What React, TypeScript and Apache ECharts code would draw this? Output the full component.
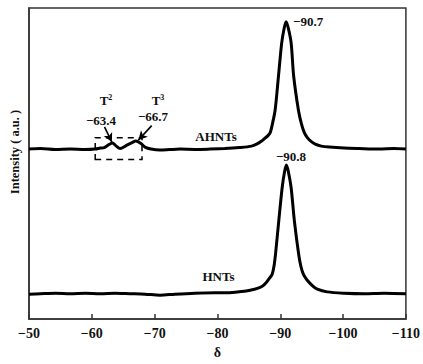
import React, { useEffect, useRef } from "react";
import * as echarts from "echarts";

// chemical shift (δ, ppm) and intensity (a.u.)
const ahntsShift = [
  -50.0, -51.82, -54.2, -56.58, -58.96, -60.54, -61.33, -61.97, -62.6, -63.3, -63.8, -64.51,
  -65.46, -66.41, -67.0, -67.83, -68.47, -69.42, -70.85, -72.43, -74.02, -76.4, -78.77,
  -81.15, -83.53, -85.43, -86.38, -86.97, -87.49, -88.05, -88.4, -88.76, -89.19, -89.71,
  -90.23, -90.63, -90.93, -91.27, -91.73, -92.14, -92.88, -93.36, -93.83, -94.31, -94.9,
  -95.58, -96.53, -97.8, -100.17, -102.55, -105.72, -108.1, -110.0,
];
const ahntsIntensity = [
  170.5, 171, 170, 170.5, 170, 170.5, 171.5, 172, 174.5, 176.5, 174, 171,
  174, 177, 178.5, 176, 172.5, 170.5, 169.5, 170, 170.5, 170.2, 170.5,
  171, 172, 173.5, 176, 178.3, 181, 184, 187, 196, 210, 243.3,
  277, 292, 298.3, 292, 277, 243.3, 210, 196, 187, 182, 178.3,
  175.5, 173.5, 172.5, 171.5, 171, 170.5, 171, 170.5,
];

const hntsShift = [
  -50.0, -51.82, -54.2, -56.58, -58.96, -61.33, -63.71, -66.09, -68.47, -70.85, -73.22,
  -76.4, -79.57, -81.94, -84.32, -85.91, -86.7, -87.22, -87.81, -88.29, -88.71, -89.0,
  -89.24, -89.76, -90.3, -90.69, -90.98, -91.28, -91.73, -92.25, -92.93, -93.28, -93.67,
  -94.23, -95.15, -95.89, -97.48, -100.17, -103.35, -106.52, -110.0,
];
const hntsIntensity = [
  25, 25.5, 26, 25.5, 26, 25.5, 26, 25.5, 25, 24, 25,
  26, 26.5, 26.5, 28, 30, 31.5, 33.3, 37, 41, 45, 53,
  65, 98.3, 131.7, 148, 154.5, 148, 131.7, 98.3, 65, 53, 45,
  39.5, 33.3, 30, 27.3, 26, 25.5, 26, 25.5,
];

const xTicks = { min: -110, max: -50, interval: 10 };

// annotation anchors (data coordinates)
const boxShift = [-60.54, -67.99];
const boxIntensity = [160, 182];
const arrowT2 = [[-62.02, 192.7], [-63.19, 177.5]];
const arrowT3 = [[-69.53, 194], [-67.41, 179.5]];

const zip = (xs: number[], ys: number[]) => xs.map((x, i) => [x, ys[i]]);
const minus = (s: string) => s.replace(/-/g, "\u2212");

const FONT = "'Liberation Serif', 'Times New Roman', serif";

export default function App() {
  const ref = useRef<HTMLDivElement>(null);
  useEffect(() => {
    if (!ref.current) return;
    const chart = echarts.init(ref.current, undefined, { renderer: "svg" });
    const txt = (text: string, x: number, y: number, size = 13, extra: any = {}) => ({
      type: "text",
      x,
      y,
      ...extra,
      style: {
        text,
        fill: "#111",
        font: `bold ${size}px ${FONT}`,
        textAlign: "center",
        textVerticalAlign: "middle",
      },
    });
    const sup = (base: string, s: string, x: number, y: number) => ({
      type: "text",
      x,
      y,
      style: {
        text: `{b|${base}}{s|${s}}`,
        textAlign: "center",
        textVerticalAlign: "middle",
        rich: {
          b: { fontFamily: FONT, fontWeight: "bold", fontSize: 13, fill: "#111", color: "#111" },
          s: { fontFamily: FONT, fontWeight: "bold", fontSize: 8, fill: "#111", color: "#111", verticalAlign: "top", padding: [0, 0, 6, 0] },
        },
      },
    });
    chart.setOption({
      animation: false,
      backgroundColor: "#fff",
      grid: {
        left: 29,
        right: 16,
        top: 8,
        bottom: 44,
        show: true,
        borderColor: "#333",
        borderWidth: 1.5,
      },
      xAxis: {
        type: "value",
        inverse: true,
        min: xTicks.min,
        max: xTicks.max,
        interval: xTicks.interval,
        name: "δ",
        nameLocation: "middle",
        nameGap: 19,
        nameTextStyle: { fontFamily: FONT, fontWeight: "bold", fontSize: 14, color: "#111" },
        axisLine: { lineStyle: { color: "#333", width: 1.5 } },
        axisTick: { inside: true, length: 5, lineStyle: { color: "#333", width: 1.5 } },
        axisLabel: {
          fontFamily: FONT,
          fontWeight: "bold",
          fontSize: 14,
          color: "#111",
          margin: 7,
          hideOverlap: false,
          formatter: (v: number) => minus(String(v)),
        },
        splitLine: { show: false },
      },
      yAxis: {
        type: "value",
        min: 0,
        max: 312,
        axisLine: { show: true, lineStyle: { color: "#333", width: 1.5 } },
        axisTick: { show: false },
        axisLabel: { show: false },
        splitLine: { show: false },
      },
      series: [
        {
          type: "line",
          name: "AHNTs",
          data: zip(ahntsShift, ahntsIntensity),
          showSymbol: false,
          smooth: 0.3,
          lineStyle: { color: "#000", width: 3 },
          markArea: {
            silent: true,
            itemStyle: {
              color: "rgba(0,0,0,0)",
              borderColor: "#000",
              borderWidth: 1.5,
              borderType: [6, 5],
            },
            data: [[{ coord: [boxShift[0], boxIntensity[0]] }, { coord: [boxShift[1], boxIntensity[1]] }]],
          },
          markLine: {
            silent: true,
            symbol: ["none", "arrow"],
            symbolSize: [7, 9],
            label: { show: false },
            lineStyle: { color: "#000", width: 1.6, type: "solid" },
            data: [
              [{ coord: arrowT2[0] }, { coord: arrowT2[1] }],
              [{ coord: arrowT3[0] }, { coord: arrowT3[1] }],
            ],
          },
        },
        {
          type: "line",
          name: "HNTs",
          data: zip(hntsShift, hntsIntensity),
          showSymbol: false,
          smooth: 0.3,
          lineStyle: { color: "#000", width: 3 },
        },
      ],
      graphic: [
        sup("T", "2", 106, 100),
        txt("\u221263.4", 101, 120),
        sup("T", "3", 158, 100),
        txt("\u221266.7", 153, 116),
        txt("AHNTs", 216, 136),
        txt("HNTs", 218.5, 276.5),
        {
          type: "text",
          x: 293,
          y: 21,
          style: { text: "\u221290.7", fill: "#111", font: `bold 13px ${FONT}`, textAlign: "left", textVerticalAlign: "middle" },
        },
        txt("\u221290.8", 291, 156.5),
        txt("Intensity ( a.u. )", 15, 152, 12.5, { rotation: Math.PI / 2 }),
      ],
    });
    return () => chart.dispose();
  }, []);
  return (
    <div
      ref={ref}
      style={{ position: "fixed", left: 0, top: 0, width: 423, height: 364 }}
    />
  );
}
